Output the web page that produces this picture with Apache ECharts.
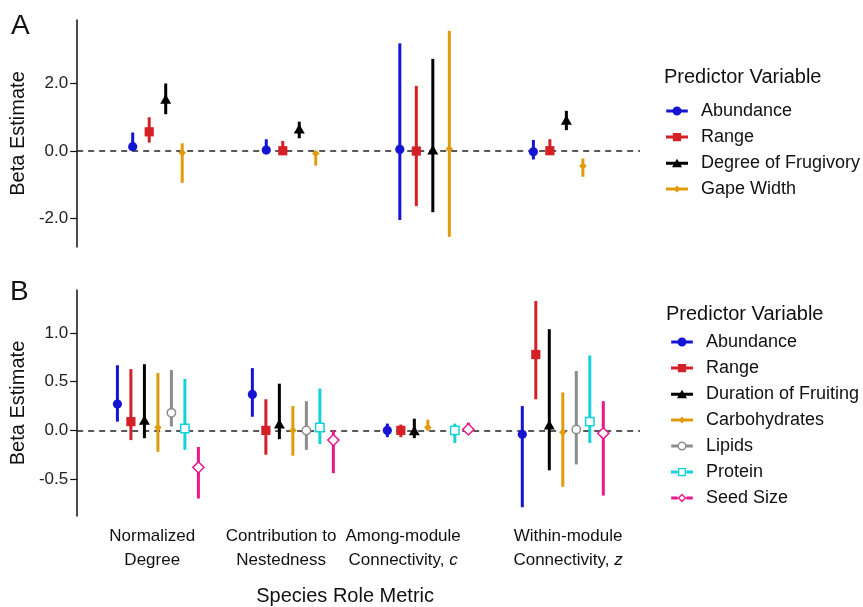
<!DOCTYPE html>
<html>
<head>
<meta charset="utf-8">
<script src="https://cdn.jsdelivr.net/npm/echarts@6/dist/echarts.min.js"></script>
<style>
    html, body { margin: 0; padding: 0; background: #fff; }
    #chart { width: 863px; height: 607px; }
</style>
</head>
<body>
<div id="chart"></div>
<script>
    var FONT = "'Liberation Sans', Arial, sans-serif";

    // x categories (species role metrics), two text lines + italic letter
    var metricTop = ['Normalized', 'Contribution to', 'Among-module', 'Within-module'];
    var metricBottom = ['Degree', 'Nestedness', 'Connectivity, ', 'Connectivity, '];
    var metricItalic = ['', '', 'c', 'z'];

    // panel A: rows = predictor, columns = metric
    var predA = ['Abundance', 'Range', 'Degree of Frugivory', 'Gape Width'];
    var estA = [
        [0.13, 0.03, 0.05, -0.02],
        [0.57, 0.01, 0.00, 0.01],
        [1.52, 0.64, 0.02, 0.90],
        [-0.05, -0.07, 0.06, -0.44]
    ];
    var loA = [
        [0.02, -0.02, -2.04, -0.25],
        [0.25, -0.12, -1.63, -0.10],
        [1.09, 0.38, -1.81, 0.62],
        [-0.94, -0.43, -2.54, -0.76]
    ];
    var hiA = [
        [0.55, 0.35, 3.19, 0.33],
        [1.00, 0.30, 1.93, 0.35],
        [2.00, 0.87, 2.73, 1.19],
        [0.23, 0.00, 3.56, -0.22]
    ];

    // panel B
    var predB = ['Abundance', 'Range', 'Duration of Fruiting', 'Carbohydrates', 'Lipids', 'Protein', 'Seed Size'];
    var estB = [
        [0.27, 0.37, 0.00, -0.04],
        [0.09, 0.00, 0.00, 0.78],
        [0.10, 0.06, -0.01, 0.05],
        [0.03, 0.00, 0.03, -0.02],
        [0.18, 0.00, null, 0.01],
        [0.02, 0.03, 0.00, 0.09],
        [-0.38, -0.10, 0.01, -0.03]
    ];
    var loB = [
        [0.09, 0.14, -0.07, -0.79],
        [-0.10, -0.25, -0.07, 0.32],
        [-0.08, -0.09, -0.08, -0.41],
        [-0.22, -0.26, 0.00, -0.58],
        [0.04, -0.20, null, -0.35],
        [-0.20, -0.14, -0.13, -0.13],
        [-0.70, -0.44, 0.00, -0.67]
    ];
    var hiB = [
        [0.67, 0.64, 0.07, 0.25],
        [0.63, 0.32, 0.06, 1.33],
        [0.68, 0.48, 0.12, 1.04],
        [0.59, 0.25, 0.11, 0.39],
        [0.62, 0.30, null, 0.61],
        [0.53, 0.43, 0.07, 0.77],
        [-0.17, 0.00, 0.08, 0.30]
    ];

    var yTicksA = [-2, 0, 2];
    var yTicksB = [-0.5, 0, 0.5, 1.0];

    var colorsA = ['#1414d2', '#d42027', '#000000', '#e09c0c'];
    var shapesA = ['circle', 'square', 'triangle', 'dot'];
    var colorsB = ['#1414d2', '#d42027', '#000000', '#e09c0c', '#8c8c8c', '#14d2d7', '#e8198b'];
    var shapesB = ['circle', 'square', 'triangle', 'dot', 'openCircle', 'openSquare', 'openDiamond'];

    // legend icons: line with marker in the middle
    var LINE = 'M0 3.4H24V6.6H0Z ';
    var LINE_SPLIT = 'M0 3.4H7.2V6.6H0Z M16.8 3.4H24V6.6H16.8Z ';
    var icons = {
        circle: 'path://' + LINE + 'M7 5A5 5 0 1 1 17 5A5 5 0 1 1 7 5Z',
        square: 'path://' + LINE + 'M7.5 0.5H16.5V9.5H7.5Z',
        triangle: 'path://' + LINE + 'M12 0L17.5 9.5H6.5Z',
        dot: 'path://' + LINE + 'M12 1.2L15.8 5L12 8.8L8.2 5Z',
        openCircle: 'path://' + LINE_SPLIT + 'M7 5A5 5 0 1 1 17 5A5 5 0 1 1 7 5Z M8.6 5A3.4 3.4 0 1 0 15.4 5A3.4 3.4 0 1 0 8.6 5Z',
        openSquare: 'path://' + LINE_SPLIT + 'M7.5 0.5H16.5V9.5H7.5Z M9 2V8H15V2Z',
        openDiamond: 'path://' + LINE_SPLIT + 'M12 0L17 5L12 10L7 5Z M12 2.2L9.2 5L12 7.8L14.8 5Z'
    };

    function marker(shape, x, y, color) {
        switch (shape) {
            case 'circle':
                return {type: 'circle', shape: {cx: x, cy: y, r: 4.6}, style: {fill: color}};
            case 'square':
                return {type: 'rect', shape: {x: x - 4.6, y: y - 4.6, width: 9.2, height: 9.2}, style: {fill: color}};
            case 'triangle':
                return {type: 'polygon', shape: {points: [[x, y - 5.5], [x + 5.5, y + 4], [x - 5.5, y + 4]]}, style: {fill: color}};
            case 'dot':
                return {type: 'polygon', shape: {points: [[x, y - 3.8], [x + 3.8, y], [x, y + 3.8], [x - 3.8, y]]}, style: {fill: color}};
            case 'openCircle':
                return {type: 'circle', shape: {cx: x, cy: y, r: 4.2}, style: {fill: '#fff', stroke: color, lineWidth: 1.5}};
            case 'openSquare':
                return {type: 'rect', shape: {x: x - 4.2, y: y - 4.2, width: 8.4, height: 8.4}, style: {fill: '#fff', stroke: color, lineWidth: 1.5}};
            case 'openDiamond':
                return {type: 'polygon', shape: {points: [[x, y - 5.6], [x + 5.6, y], [x, y + 5.6], [x - 5.6, y]]}, style: {fill: '#fff', stroke: color, lineWidth: 1.5}};
        }
    }

    // one custom series per predictor, dodged sideways inside each metric
    function makeSeries(names, colors, shapes, est, lo, hi, axisIdx, step) {
        return names.map(function (name, k) {
            var off = (k - (names.length - 1) / 2) * step;
            return {
                name: name,
                type: 'custom',
                xAxisIndex: axisIdx,
                yAxisIndex: axisIdx,
                z: 5,
                itemStyle: {color: colors[k]},
                encode: {x: 0, y: [1, 2, 3]},
                data: est[k].map(function (e, j) {
                    return [j, e, lo[k][j], hi[k][j]];
                }),
                renderItem: function (params, api) {
                    var e = api.value(1);
                    if (isNaN(e)) return;
                    var j = api.value(0);
                    var p = api.coord([j, e]);
                    var x = p[0] + off;
                    var yTop = api.coord([j, api.value(3)])[1];
                    var yBot = api.coord([j, api.value(2)])[1];
                    return {
                        type: 'group',
                        children: [
                            {type: 'line', shape: {x1: x, y1: yTop, x2: x, y2: yBot}, style: {stroke: colors[k], lineWidth: 3}},
                            marker(shapes[k], x, p[1], colors[k])
                        ]
                    };
                }
            };
        });
    }

    function zeroLine(idx) {
        return {
            type: 'line',
            xAxisIndex: idx,
            yAxisIndex: idx,
            data: [],
            silent: true,
            z: 1,
            markLine: {
                silent: true,
                z: 1,
                symbol: ['none', 'none'],
                label: {show: false},
                lineStyle: {color: '#222', width: 1.6, type: [6, 5]},
                data: [{yAxis: 0}]
            }
        };
    }

    function yAxisOpt(idx, min, max, ticks) {
        return {
            type: 'value',
            gridIndex: idx,
            min: min,
            max: max,
            name: 'Beta Estimate',
            nameLocation: 'middle',
            nameGap: 41,
            nameTextStyle: {fontFamily: FONT, fontSize: 20, color: '#111'},
            splitLine: {show: false},
            axisLine: {show: true, onZero: false, lineStyle: {color: '#111', width: 1.5}},
            axisTick: {show: true, length: 7, customValues: ticks, lineStyle: {color: '#111', width: 1.2}},
            axisLabel: {
                customValues: ticks,
                margin: 9,
                fontFamily: FONT,
                fontSize: 17,
                color: '#222',
                formatter: function (v) { return v.toFixed(1); }
            }
        };
    }

    function legendOpt(names, shapes, left, top) {
        return {
            orient: 'vertical',
            left: left,
            top: top,
            padding: 0,
            itemWidth: 22,
            itemHeight: 9,
            itemGap: 8,
            selectedMode: false,
            itemStyle: {borderWidth: 0},
            formatter: '{t|{name}}',
            textStyle: {
                rich: {
                    t: {fontFamily: FONT, fontSize: 18, color: '#111', lineHeight: 18, padding: [0, 0, 0, 8]}
                }
            },
            data: names.map(function (n, k) {
                return {name: n, icon: icons[shapes[k]]};
            })
        };
    }

    var titleStyle = {fontFamily: FONT, fontWeight: 'normal', color: '#111'};

    var option = {
        animation: false,
        backgroundColor: '#fff',
        title: [
            {text: 'A', left: 11, top: 12, padding: 0, textStyle: Object.assign({fontSize: 28}, titleStyle)},
            {text: 'B', left: 10, top: 278, padding: 0, textStyle: Object.assign({fontSize: 28}, titleStyle)},
            {text: 'Predictor Variable', left: 664, top: 67, padding: 0, textStyle: Object.assign({fontSize: 20}, titleStyle)},
            {text: 'Predictor Variable', left: 666, top: 304, padding: 0, textStyle: Object.assign({fontSize: 20}, titleStyle)}
        ],
        legend: [
            legendOpt(predA, shapesA, 666, 102),
            legendOpt(predB, shapesB, 671, 333)
        ],
        grid: [
            {left: 77, right: 223, top: 20, height: 227},
            {left: 77, right: 223, top: 290, height: 227}
        ],
        xAxis: [
            {
                type: 'value', gridIndex: 0, min: -0.601, max: 3.613,
                axisLine: {show: false, onZero: false}, axisTick: {show: false}, axisLabel: {show: false}, splitLine: {show: false}
            },
            {
                type: 'value', gridIndex: 1, min: -0.598, max: 3.572,
                name: 'Species Role Metric',
                nameLocation: 'middle',
                nameGap: 70,
                nameTextStyle: {fontFamily: FONT, fontSize: 20, color: '#111', padding: [0, 27, 0, 0]},
                axisLine: {show: false, onZero: false}, axisTick: {show: false}, splitLine: {show: false},
                axisLabel: {
                    // label anchors sit a little off the groups, as in the original figure
                    customValues: [-0.042, 0.913, 1.817, 3.039],
                    margin: 8,
                    formatter: function (v) {
                        var i = Math.round(v);
                        var s = '{n|' + metricTop[i] + '}\n{n|' + metricBottom[i] + '}';
                        if (metricItalic[i]) s += '{i|' + metricItalic[i] + '}';
                        return s;
                    },
                    rich: {
                        n: {fontFamily: FONT, fontSize: 17, color: '#111', lineHeight: 24},
                        i: {fontFamily: FONT, fontSize: 17, color: '#111', lineHeight: 24, fontStyle: 'italic'}
                    }
                }
            }
        ],
        yAxis: [
            yAxisOpt(0, -2.84, 3.88, yTicksA),
            yAxisOpt(1, -0.88, 1.443, yTicksB)
        ],
        series: [zeroLine(0), zeroLine(1)]
            .concat(makeSeries(predA, colorsA, shapesA, estA, loA, hiA, 0, 16.5))
            .concat(makeSeries(predB, colorsB, shapesB, estB, loB, hiB, 1, 13.5))
    };

    var myChart = echarts.init(document.getElementById('chart'));
    myChart.setOption(option);
</script>
</body>
</html>
